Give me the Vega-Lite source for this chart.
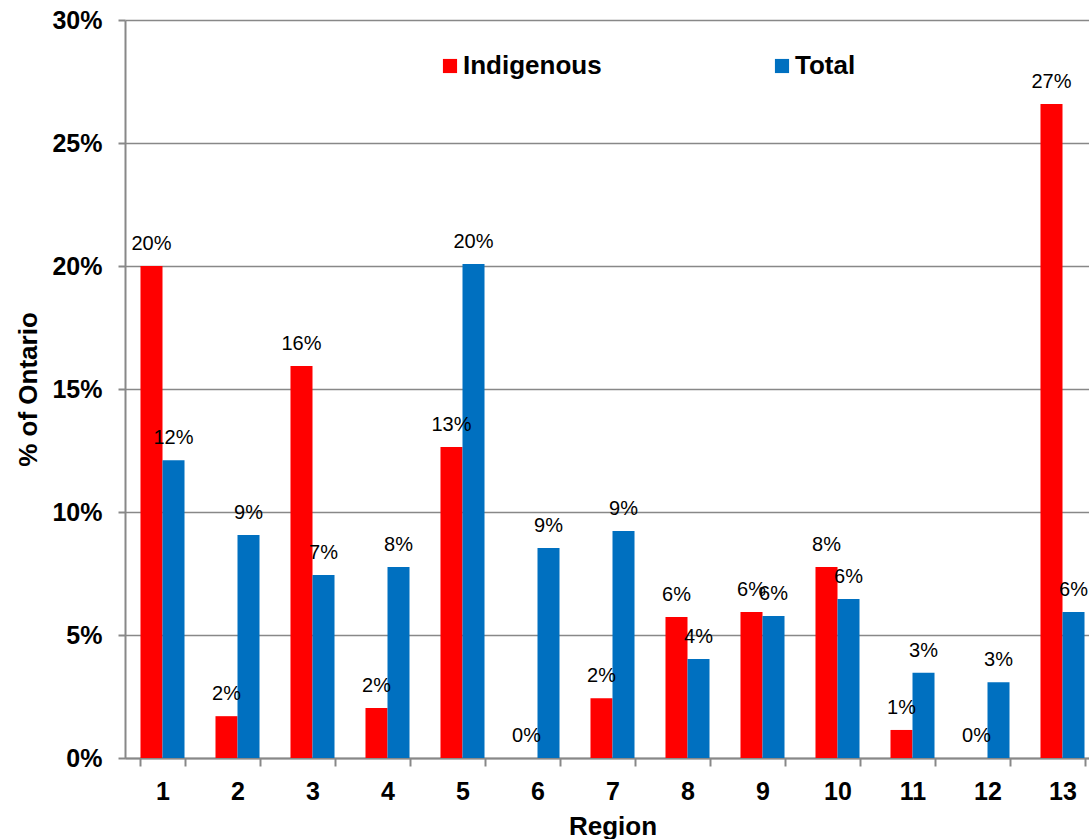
{
  "$schema": "https://vega.github.io/schema/vega-lite/v6.json",
  "autosize": {"type": "none"},
  "width": 964,
  "height": 738,
  "padding": {"left": 125, "top": 20, "right": 0, "bottom": 81},
  "background": "white",
  "data": {
    "values": [
      {"region": 1, "group": "Indigenous", "value": 0.200},
      {"region": 1, "group": "Total", "value": 0.121},
      {"region": 2, "group": "Indigenous", "value": 0.017},
      {"region": 2, "group": "Total", "value": 0.0907},
      {"region": 3, "group": "Indigenous", "value": 0.1593},
      {"region": 3, "group": "Total", "value": 0.0744},
      {"region": 4, "group": "Indigenous", "value": 0.0203},
      {"region": 4, "group": "Total", "value": 0.0776},
      {"region": 5, "group": "Indigenous", "value": 0.1264},
      {"region": 5, "group": "Total", "value": 0.2008},
      {"region": 6, "group": "Indigenous", "value": 0},
      {"region": 6, "group": "Total", "value": 0.0854},
      {"region": 7, "group": "Indigenous", "value": 0.0243},
      {"region": 7, "group": "Total", "value": 0.0923},
      {"region": 8, "group": "Indigenous", "value": 0.0573},
      {"region": 8, "group": "Total", "value": 0.0402},
      {"region": 9, "group": "Indigenous", "value": 0.0593},
      {"region": 9, "group": "Total", "value": 0.0577},
      {"region": 10, "group": "Indigenous", "value": 0.0776},
      {"region": 10, "group": "Total", "value": 0.0646},
      {"region": 11, "group": "Indigenous", "value": 0.0114},
      {"region": 11, "group": "Total", "value": 0.0347},
      {"region": 12, "group": "Indigenous", "value": 0},
      {"region": 12, "group": "Total", "value": 0.0308},
      {"region": 13, "group": "Indigenous", "value": 0.2659},
      {"region": 13, "group": "Total", "value": 0.0593}
    ]
  },
  "encoding": {
    "x": {
      "field": "region",
      "type": "ordinal",
      "scale": {"range": [0, 975], "paddingInner": 0.413, "paddingOuter": 0.2065},
      "axis": {
        "title": "Region",
        "labelAngle": 0,
        "labelFont": "Liberation Sans",
        "labelFontWeight": "bold",
        "labelFontSize": 25,
        "labelColor": "black",
        "labelPadding": 13,
        "tickBand": "extent",
        "tickSize": 8,
        "tickColor": "#888888",
        "domainColor": "#888888",
        "domainWidth": 2,
        "tickWidth": 2,
        "titleFont": "Liberation Sans",
        "titleFontWeight": "bold",
        "titleFontSize": 26,
        "titleColor": "black",
        "titlePadding": 9
      }
    },
    "xOffset": {"field": "group", "type": "nominal", "sort": ["Indigenous", "Total"]},
    "y": {
      "field": "value",
      "type": "quantitative",
      "scale": {"domain": [0, 0.3], "nice": false},
      "axis": {
        "title": "% of Ontario",
        "values": [0, 0.05, 0.1, 0.15, 0.2, 0.25, 0.3],
        "format": ".0%",
        "labelFont": "Liberation Sans",
        "labelFontWeight": "bold",
        "labelFontSize": 25,
        "labelColor": "black",
        "labelPadding": 16,
        "tickSize": 7,
        "tickColor": "#888888",
        "tickWidth": 2,
        "domainColor": "#888888",
        "domainWidth": 2,
        "grid": true,
        "gridColor": "#888888",
        "gridWidth": 1.5,
        "titleFont": "Liberation Sans",
        "titleFontWeight": "bold",
        "titleFontSize": 26,
        "titleColor": "black",
        "titleAngle": -90,
        "titleBaseline": "middle",
        "titleAlign": "center",
        "titleX": -97
      }
    }
  },
  "layer": [
    {
      "mark": {"type": "bar"},
      "encoding": {
        "color": {
          "field": "group",
          "type": "nominal",
          "scale": {"domain": ["Indigenous", "Total"], "range": ["#FF0000", "#0070C0"]},
          "legend": {
            "title": null,
            "orient": "none",
            "legendX": 312,
            "legendY": 33,
            "direction": "horizontal",
            "symbolType": "square",
            "symbolSize": 200,
            "symbolStrokeWidth": 0,
            "labelFont": "Liberation Sans",
            "labelFontWeight": "bold",
            "labelFontSize": 26,
            "labelColor": "black",
            "labelOffset": 0,
            "columnPadding": 167,
            "labelLimit": 300
          }
        }
      }
    },
    {
      "mark": {"type": "text", "dy": -16, "baseline": "alphabetic", "font": "Liberation Sans", "fontSize": 20, "color": "black"},
      "encoding": {
        "text": {"field": "value", "type": "quantitative", "format": ".0%"}
      }
    }
  ],
  "config": {
    "view": {"stroke": null}
  }
}
